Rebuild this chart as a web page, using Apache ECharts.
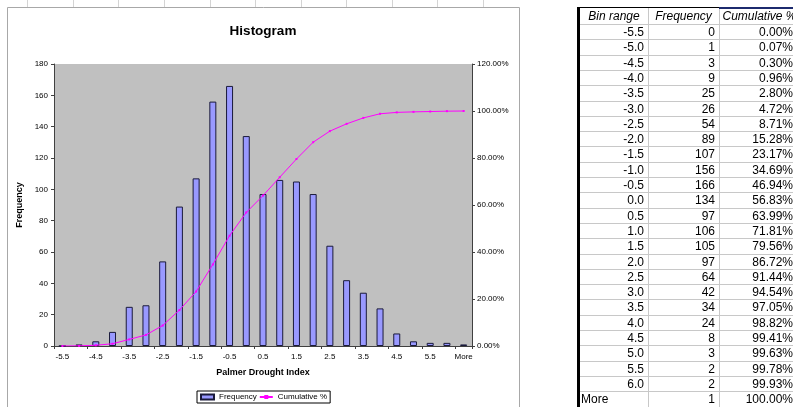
<!DOCTYPE html>
<html>
<head>
<meta charset="utf-8">
<title>Histogram</title>
<script src="https://cdn.jsdelivr.net/npm/echarts@6/dist/echarts.min.js"></script>
<style>
  html, body { margin: 0; padding: 0; background: #fff; }
  #chart { position: absolute; left: 0; top: 0; width: 793px; height: 407px; }
  #sheet { position: absolute; left: 0; top: 0; width: 793px; height: 407px; overflow: hidden;
           font-family: "Liberation Sans", Arial, sans-serif; font-size: 12px; color: #000; pointer-events: none; }
  .cell { position: absolute; box-sizing: border-box; white-space: nowrap; overflow: visible; }
  .ln { position: absolute; }
</style>
</head>
<body>
<div id="chart"></div>
<div id="sheet"></div>
<script>
// Bin upper limits, counts per bin and running percentage
const bins = ['-5.5', '-5.0', '-4.5', '-4.0', '-3.5', '-3.0', '-2.5', '-2.0', '-1.5', '-1.0', '-0.5', '0.0',
              '0.5', '1.0', '1.5', '2.0', '2.5', '3.0', '3.5', '4.0', '4.5', '5.0', '5.5', '6.0', 'More'];
const frequency = [0, 1, 3, 9, 25, 26, 54, 89, 107, 156, 166, 134, 97, 106, 105, 97, 64, 42, 34, 24, 8, 3, 2, 2, 1];
const cumulativePct = [0.00, 0.07, 0.30, 0.96, 2.80, 4.72, 8.71, 15.28, 23.17, 34.69, 46.94, 56.83,
                       63.99, 71.81, 79.56, 86.72, 91.44, 94.54, 97.05, 98.82, 99.41, 99.63, 99.78, 99.93, 100.00];
const headers = ['Bin range', 'Frequency', 'Cumulative %'];

const FONT = '"Liberation Sans", Arial, sans-serif';
const axisColor = '#404040';

// worksheet column edges peeking above the chart frame
const sheetColEdges = [27, 73, 118, 164, 210, 255, 301, 346, 392, 437, 483];

const chart = echarts.init(document.getElementById('chart'), null, { renderer: 'canvas' });

const frameMarks = sheetColEdges.map(x => ({
  type: 'line', silent: true, z: -10,
  shape: { x1: x + 0.5, y1: 0, x2: x + 0.5, y2: 7 },
  style: { stroke: '#d4d4d4', lineWidth: 1 }
}));

chart.setOption({
  animation: false,
  backgroundColor: '#fff',
  textStyle: { fontFamily: FONT, color: '#000' },
  grid: { left: 54, right: 321, top: 64, bottom: 61, show: true, backgroundColor: '#C0C0C0', borderWidth: 0 },
  graphic: frameMarks.concat([
    // chart area frame
    { type: 'rect', silent: true, z: -10,
      shape: { x: 7.5, y: 7.5, width: 512, height: 430 },
      style: { fill: 'none', stroke: '#a8a8a8', lineWidth: 1 } },
    { type: 'text', silent: true,
      x: 263, y: 31,
      style: { text: 'Histogram', fontFamily: FONT, fontSize: 13.5, fontWeight: 'bold',
               fill: '#000', textAlign: 'center', textVerticalAlign: 'middle' } }
  ]),
  legend: {
    left: 197, top: 391,
    padding: [2, 3],
    itemGap: 2,
    itemWidth: 13, itemHeight: 5,
    borderColor: '#000', borderWidth: 1, borderRadius: 0,
    backgroundColor: '#fff',
    textStyle: { fontSize: 8, fontFamily: FONT, color: '#000' },
    data: [{ name: 'Frequency', icon: 'rect' }, { name: 'Cumulative %' }]
  },
  xAxis: {
    type: 'category',
    data: bins,
    boundaryGap: true,
    name: 'Palmer Drought Index',
    nameLocation: 'middle',
    nameGap: 22,
    nameTextStyle: { fontSize: 9, fontWeight: 'bold', fontFamily: FONT, color: '#000' },
    axisLine: { lineStyle: { color: axisColor, width: 1 } },
    axisTick: { show: true, length: 3, lineStyle: { color: axisColor } },
    axisLabel: { interval: 1, fontSize: 8, margin: 7, color: '#000', fontFamily: FONT },
    splitLine: { show: false }
  },
  yAxis: [
    {
      type: 'value', min: 0, max: 180, interval: 20,
      name: 'Frequency', nameLocation: 'middle', nameGap: 23, nameRotate: 90,
      nameTextStyle: { fontSize: 9, fontWeight: 'bold', fontFamily: FONT, color: '#000' },
      axisLine: { show: true, lineStyle: { color: axisColor, width: 1 } },
      axisTick: { show: true, length: 3, lineStyle: { color: axisColor } },
      axisLabel: { fontSize: 8, margin: 6, color: '#000', fontFamily: FONT },
      splitLine: { show: false }
    },
    {
      type: 'value', min: 0, max: 120, interval: 20, position: 'right',
      axisLine: { show: true, lineStyle: { color: axisColor, width: 1 } },
      axisTick: { show: true, length: 3, lineStyle: { color: axisColor } },
      axisLabel: { fontSize: 8, margin: 5, color: '#000', fontFamily: FONT,
                   formatter: v => v.toFixed(2) + '%' },
      splitLine: { show: false }
    }
  ],
  series: [
    {
      name: 'Frequency', type: 'bar', yAxisIndex: 0,
      data: frequency,
      barWidth: 7,
      itemStyle: { color: '#9999FF', borderColor: '#1a1a3a', borderWidth: 1 }
    },
    {
      name: 'Cumulative %', type: 'line', yAxisIndex: 1,
      data: cumulativePct,
      symbol: 'rect', symbolSize: 2, showSymbol: true,
      lineStyle: { color: '#FF00FF', width: 1 },
      itemStyle: { color: '#FF00FF' }
    }
  ]
});

// Frequency table beside the chart
(function buildSheet() {
  const sheet = document.getElementById('sheet');
  const colX = [580, 648, 719, 800];
  const headTop = 8, headH = 17, rowH = 15.3;
  const add = (cls, css, text) => {
    const d = document.createElement('div');
    d.className = cls;
    Object.assign(d.style, css);
    if (text !== undefined) d.textContent = text;
    sheet.appendChild(d);
    return d;
  };
  const px = v => v + 'px';
  const totalRows = bins.length;
  const bottom = headTop + headH + totalRows * rowH;

  // horizontal grid lines
  for (let i = 0; i <= totalRows; i++) {
    const y = Math.round(headTop + headH + i * rowH) - 1;
    add('ln', { left: px(colX[0]), top: px(y), width: px(793 - colX[0]), height: '1px', background: '#c8c8c8' });
  }
  // vertical grid lines
  [colX[1], colX[2]].forEach(x => {
    add('ln', { left: px(x), top: px(headTop), width: '1px', height: px(bottom - headTop), background: '#c8c8c8' });
  });
  // borders: thick left edge, top edge
  add('ln', { left: px(colX[0] - 3), top: px(headTop - 1), width: '3px', height: px(bottom), background: '#000' });
  add('ln', { left: px(colX[0]), top: px(headTop - 1), width: px(colX[2] - colX[0]), height: '1px', background: '#000' });
  add('ln', { left: px(colX[2]), top: px(headTop - 1), width: px(793 - colX[2]), height: '2px', background: '#1c2a6e' });

  // header
  headers.forEach((h, c) => {
    add('cell', { left: px(colX[c]), top: px(headTop), width: px(colX[c + 1] - colX[c]), height: px(headH),
                  lineHeight: px(headH), textAlign: 'center', fontStyle: 'italic' }, h);
  });
  // body
  bins.forEach((b, i) => {
    const top = headTop + headH + i * rowH;
    const isText = isNaN(parseFloat(b));
    const cells = [b, String(frequency[i]), cumulativePct[i].toFixed(2) + '%'];
    cells.forEach((t, c) => {
      const right = c === 2 ? 0 : 4;
      const css = { top: px(top), height: px(rowH), lineHeight: px(rowH) };
      if (c === 0 && isText) {
        Object.assign(css, { left: px(colX[0] + 1), textAlign: 'left' });
      } else if (c === 2) {
        Object.assign(css, { left: px(colX[2]), width: px(793 - colX[2]), textAlign: 'right' });
      } else {
        Object.assign(css, { left: px(colX[c]), width: px(colX[c + 1] - colX[c] - right), textAlign: 'right' });
      }
      add('cell', css, t);
    });
  });
})();
</script>
</body>
</html>
